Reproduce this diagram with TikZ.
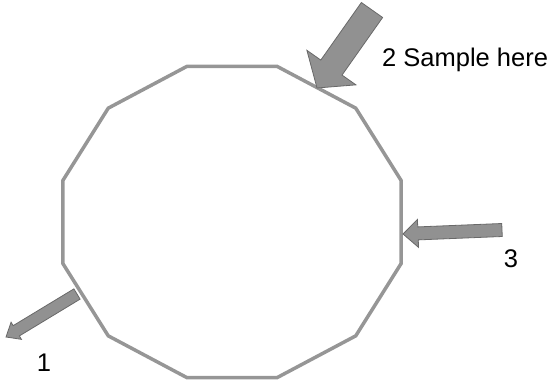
\documentclass[tikz,border=0pt]{standalone}
\usepackage{fontspec}
\setmainfont{Liberation Sans}
\usetikzlibrary{calc}
\definecolor{polyc}{RGB}{150,150,150}
\definecolor{arrfill}{RGB}{145,145,145}
\definecolor{arrdraw}{RGB}{105,105,105}
\tikzset{
  poly/.style={draw=polyc, line width=3.5pt, line join=miter},
  blockarr/.style={fill=arrfill, draw=arrdraw, line width=0.8pt, line join=miter},
  lbl/.style={font=\fontsize{25.5}{30}\selectfont, inner sep=0pt}
}
% #1 tail, #2 tip, #3 half shaft width, #4 half head width, #5 head length (all dimensions)
\newcommand\blockarrow[5]{%
  \coordinate (#1-hb) at ($(#2)!#5!(#1)$);
  \draw[blockarr] ($(#1)!#3!90:(#2)$) -- ($(#1-hb)!#3!90:(#2)$) -- ($(#1-hb)!#4!90:(#2)$)
    -- (#2) -- ($(#1-hb)!#4!-90:(#2)$) -- ($(#1-hb)!#3!-90:(#2)$) -- ($(#1)!#3!-90:(#2)$) -- cycle;
}
\begin{document}
\begin{tikzpicture}[x=1pt, y=-1pt]
  \useasboundingbox (0,0) rectangle (548,383);
  \coordinate (c) at (232,222);
  % dodecagon
  \draw[poly] ($(c)+(15:175 and 161)$)
    \foreach \a in {45,75,...,345} { -- ($(c)+(\a:175 and 161)$) } -- cycle;
  % arrows
  \coordinate (t2) at (372,10);
  \coordinate (p2) at (317,88);
  \coordinate (t3) at (502,230);
  \coordinate (p3) at (403,234);
  \coordinate (t1) at (77,294);
  \coordinate (p1) at (6,337);
  \blockarrow{t2}{p2}{13pt}{30pt}{25pt}
  \blockarrow{t3}{p3}{6.5pt}{14pt}{15pt}
  \blockarrow{t1}{p1}{6pt}{10pt}{12pt}
  % labels
  \node[lbl, anchor=base west] (l2) at (382,66) {2 Sample here};
  \node[lbl] (l3) at (511,259) {3};
  \node[lbl] (l1) at (44,363) {1};
\end{tikzpicture}
\end{document}
